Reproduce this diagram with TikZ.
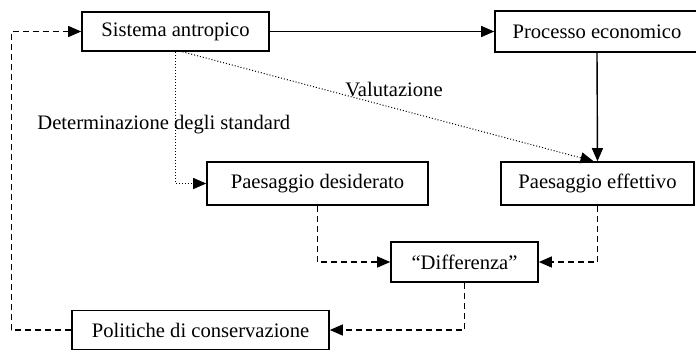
\documentclass[tikz,border=0pt]{standalone}
\usepackage{fontspec}
\setmainfont{Liberation Serif}
\usetikzlibrary{arrows.meta, calc}

\begin{document}
\begin{tikzpicture}[
  x=0.5pt, y=-0.5pt,
  every node/.style={font=\fontsize{10.3}{12}\selectfont},
  stepbox/.style={draw, line width=0.8pt, inner sep=0pt, align=center},
  arrow/.style={-{Triangle[length=6.5pt, width=5.5pt]}, line width=0.7pt},
  dotarrow/.style={-{Triangle[length=6.5pt, width=5.5pt]}, line width=0.5pt, densely dotted},
  dasharrow/.style={-{Triangle[length=6.5pt, width=5.5pt]}, line width=0.55pt, dash pattern=on 3pt off 2pt},
]
\useasboundingbox (0,0) rectangle (696,349);

% Boxes
\node[stepbox, minimum width=93.5pt, minimum height=19.5pt] (sis) at (175.5,31.5) {Sistema antropico};
\node[stepbox, minimum width=102pt, minimum height=20.5pt] (proc) at (597,31.5) {Processo economico};
\node[stepbox, minimum width=110.5pt, minimum height=21.5pt] (des) at (317.5,183.5) {Paesaggio desiderato};
\node[stepbox, minimum width=96.5pt, minimum height=21.5pt] (eff) at (597.5,183.5) {Paesaggio effettivo};
\node[stepbox, minimum width=73.5pt, minimum height=20pt] (dif) at (464.5,262) {``Differenza''};
\node[stepbox, minimum width=128.5pt, minimum height=19.5pt] (pol) at (200.5,330) {Politiche di conservazione};

% Solid connectors
\draw[arrow] (sis.east) -- (proc.west);
\draw[arrow] (proc.south) -- (eff.north);

% Dotted connectors
\draw[dotarrow] ($(sis.south)+(7,0)$) -- ($(eff.north)+(-4,0)$);
\draw[dotarrow] (sis.south) |- (des.west);

% Dashed feedback loop
\draw[dasharrow] (des.south) |- (dif.west);
\draw[dasharrow] (eff.south) |- (dif.east);
\draw[dasharrow] (dif.south) |- (pol.east);
\draw[dasharrow] (pol.west) -- ++(-60,0) |- (sis.west);

% Labels
\node (val) at (394,90) {Valutazione};
\node[anchor=west, inner sep=0pt] (det) at (37,125) {Determinazione degli standard};

\end{tikzpicture}
\end{document}
